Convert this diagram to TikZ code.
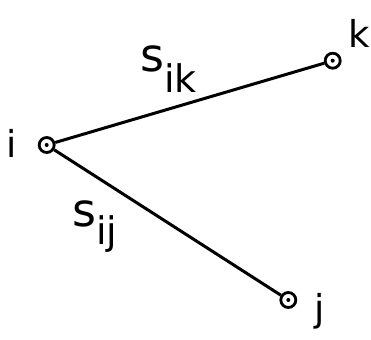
\documentclass[tikz,border=0pt]{standalone}
\usepackage{fontspec}
\setmainfont{DejaVu Sans}
\begin{document}
\begin{tikzpicture}[x=1pt,y=1pt,
  vertex/.style={circle,draw,line width=2.8pt,minimum size=15pt,inner sep=0pt},
  edge/.style={line width=3pt},
  lbl/.style={inner sep=0pt,anchor=base,font=\fontsize{37}{37}\selectfont},
  wlbl/.style={inner sep=0pt,anchor=base west}]
\useasboundingbox (0,0) rectangle (371,339);
\node[vertex] (i) at (46.7,194) {};
\node[vertex] (k) at (332.7,278.3) {};
\node[vertex] (j) at (288.3,39) {};
\fill (i) circle (2pt);
\fill (k) circle (2pt);
\fill (j) circle (2pt);
\draw[edge] (i) -- (k);
\draw[edge] (i) -- (j);
\node[lbl] (li) at (12,181) {i};
\node[lbl] (lk) at (359,291) {k};
\node[lbl] (lj) at (320,17) {j};
\node[wlbl] (sik) at (140,267) {{\fontsize{46}{46}\selectfont s}\raisebox{-21pt}{\fontsize{38}{38}\selectfont ik}};
\node[wlbl] (sij) at (72,112) {{\fontsize{46}{46}\selectfont s}\raisebox{-18pt}{\fontsize{38}{38}\selectfont ij}};
\end{tikzpicture}
\end{document}
